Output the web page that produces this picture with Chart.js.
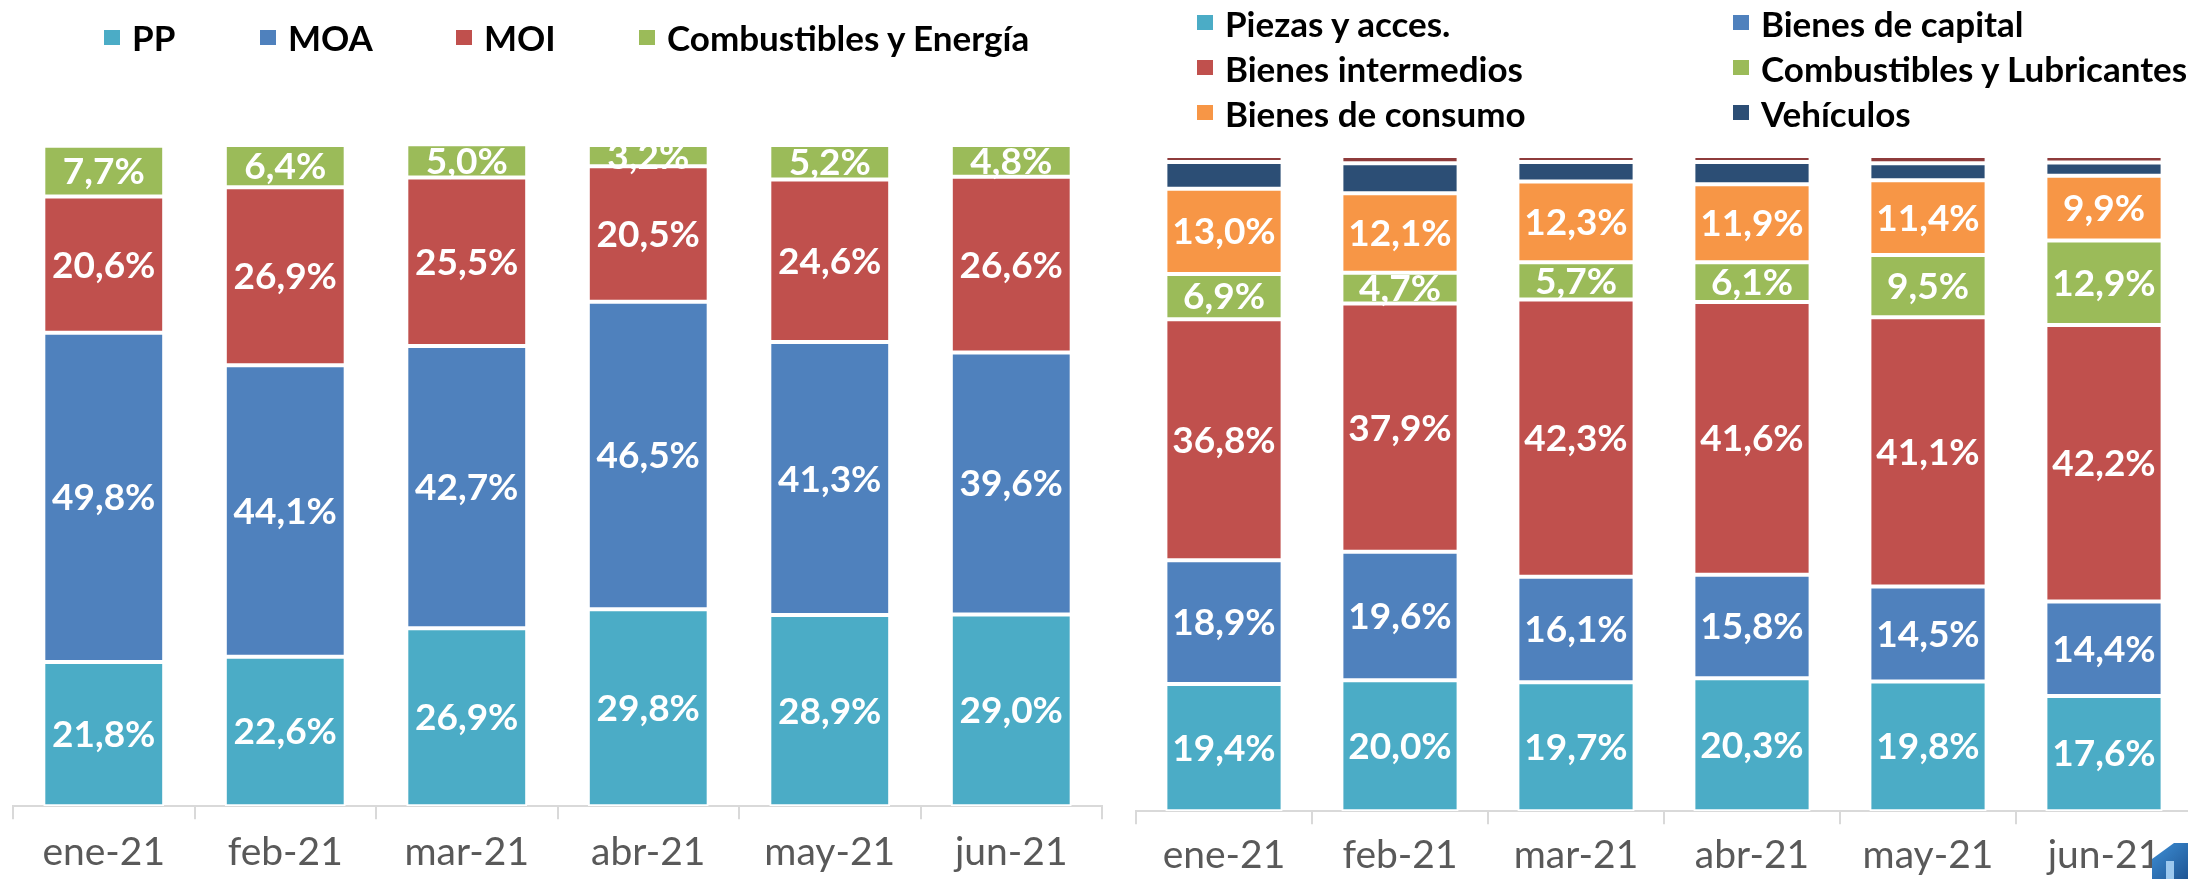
<!DOCTYPE html>
<html lang="es">
<head>
<meta charset="utf-8">
<title>Exportaciones e importaciones por uso</title>
<script src="https://cdn.jsdelivr.net/npm/chart.js@4.4.1/dist/chart.umd.min.js"></script>
<style>
  html, body { margin: 0; padding: 0; background: #fff; overflow: hidden; }
  body { width: 2188px; height: 879px; position: relative; font-family: Lato, sans-serif; }
  .chart { position: absolute; top: 0; }
  #expBox { left: 0; width: 1110px; height: 900px; }
  #impBox { left: 1110px; width: 1090px; height: 900px; }
  .legend { position: absolute; font-weight: bold; font-size: 35px; color: #000; }
  .legend .item { display: flex; align-items: center; white-space: nowrap; }
  .legend .box { width: 16px; height: 15px; margin-right: 12px; }
  #expLegend { left: 104px; top: 16px; display: grid; grid-template-columns: 156px 196px 183px auto; }
  #impLegend { left: 1197px; top: 0px; display: grid; grid-template-columns: 536px auto; grid-auto-rows: 45px; }
  #logo { position: absolute; left: 2152px; top: 843px; width: 40px; height: 40px;
          background: linear-gradient(135deg, #3d8fd6, #1c4f8c);
          clip-path: polygon(0 40%, 55% 0, 100% 0, 100% 100%, 0 100%); }
  #logo::after { content: ''; position: absolute; left: 14px; top: 18px; width: 8px; height: 22px; background: #9cc8ee; }
</style>
</head>
<body>
<div id="expBox" class="chart"><canvas id="expChart" width="1110" height="900"></canvas></div>
<div id="impBox" class="chart"><canvas id="impChart" width="1090" height="900"></canvas></div>
<div id="expLegend" class="legend"></div>
<div id="impLegend" class="legend"></div>
<div id="logo"></div>

<script>
// Data
const months = ['ene-21', 'feb-21', 'mar-21', 'abr-21', 'may-21', 'jun-21'];

// Exportaciones por rubro (% del total)
const expPP  = [21.8, 22.6, 26.9, 29.8, 28.9, 29.0];
const expMOA = [49.8, 44.1, 42.7, 46.5, 41.3, 39.6];
const expMOI = [20.6, 26.9, 25.5, 20.5, 24.6, 26.6];
const expCyE = [7.7, 6.4, 5.0, 3.2, 5.2, 4.8];

// Importaciones por uso económico (% del total)
const impPiezas = [19.4, 20.0, 19.7, 20.3, 19.8, 17.6];
const impBK     = [18.9, 19.6, 16.1, 15.8, 14.5, 14.4];
const impBI     = [36.8, 37.9, 42.3, 41.6, 41.1, 42.2];
const impCyL    = [6.9, 4.7, 5.7, 6.1, 9.5, 12.9];
const impBC     = [13.0, 12.1, 12.3, 11.9, 11.4, 9.9];
const impVeh    = [4.1, 4.6, 3.0, 3.4, 2.6, 2.0];  // sin etiqueta en el original
const impResto  = [0.9, 1.1, 0.9, 0.9, 1.1, 1.0];  // resto, sin leyenda

// Colors
const aqua = '#4bacc6';
const blue = '#4f81bd';
const red = '#c0504d';
const green = '#9bbb59';
const orange = '#f79646';
const navy = '#2c4e75';
const maroon = '#8e3b3b';

// Formats 21.8 -> "21,8%"
function fmt(v) {
  return v.toFixed(1).replace('.', ',') + '%';
}

function makeDataset(label, data, color, showLabel, inLegend = true) {
  return {
    label,
    data,
    backgroundColor: color,
    borderColor: '#ffffff',
    borderWidth: 2,
    borderSkipped: false,
    showLabel,
    inLegend,
  };
}

// Draws the white value in the middle of each segment
const segmentLabels = {
  id: 'segmentLabels',
  afterDatasetsDraw(chart) {
    const ctx = chart.ctx;
    ctx.save();
    ctx.fillStyle = '#ffffff';
    ctx.font = 'bold 37px Lato';
    ctx.textAlign = 'center';
    ctx.textBaseline = 'middle';
    chart.data.datasets.forEach((ds, i) => {
      if (!ds.showLabel) return;
      chart.getDatasetMeta(i).data.forEach((bar, j) => {
        const p = bar.getProps(['x', 'y', 'base'], true);
        ctx.fillText(fmt(ds.data[j]), p.x, (p.y + p.base) / 2 + 1);
      });
    });
    ctx.restore();
  }
};

function makeOptions(pad, tickPad) {
  return {
    responsive: false,
    animation: false,
    layout: { padding: pad },
    datasets: { bar: { barPercentage: 0.666, categoryPercentage: 1 } },
    plugins: {
      legend: { display: false },
      tooltip: { enabled: false },
    },
    scales: {
      x: {
        stacked: true,
        grid: { offset: true, drawOnChartArea: false, drawTicks: true, tickLength: 13, color: '#d9d9d9', lineWidth: 2 },
        border: { color: '#d9d9d9', width: 2 },
        ticks: { color: '#595959', font: { family: 'Lato', size: 39 }, padding: tickPad },
      },
      y: { stacked: true, display: false, min: 0, max: 100 },
    },
  };
}

const expChart = new Chart(document.getElementById('expChart'), {
  type: 'bar',
  data: {
    labels: months,
    datasets: [
      makeDataset('PP', expPP, aqua, true),
      makeDataset('MOA', expMOA, blue, true),
      makeDataset('MOI', expMOI, red, true),
      makeDataset('Combustibles y Energía', expCyE, green, true),
    ],
  },
  options: makeOptions({ top: 145, left: 13, right: 8, bottom: 14 }, 10),
  plugins: [segmentLabels],
});

const impChart = new Chart(document.getElementById('impChart'), {
  type: 'bar',
  data: {
    labels: months,
    datasets: [
      makeDataset('Piezas y acces.', impPiezas, aqua, true),
      makeDataset('Bienes de capital', impBK, blue, true),
      makeDataset('Bienes intermedios', impBI, red, true),
      makeDataset('Combustibles y Lubricantes', impCyL, green, true),
      makeDataset('Bienes de consumo', impBC, orange, true),
      makeDataset('Vehículos', impVeh, navy, false),
      makeDataset('Resto', impResto, maroon, false, false),
    ],
  },
  options: makeOptions({ top: 156, left: 26, right: 8, bottom: 13 }, 8),
  plugins: [segmentLabels],
});

// HTML legends built from the datasets
function buildLegend(chart, id) {
  const box = document.getElementById(id);
  chart.data.datasets.filter(ds => ds.inLegend).forEach(ds => {
    box.innerHTML += `<div class="item"><span class="box" style="background:${ds.backgroundColor}"></span>${ds.label}</div>`;
  });
}
buildLegend(expChart, 'expLegend');
buildLegend(impChart, 'impLegend');
</script>
</body>
</html>
